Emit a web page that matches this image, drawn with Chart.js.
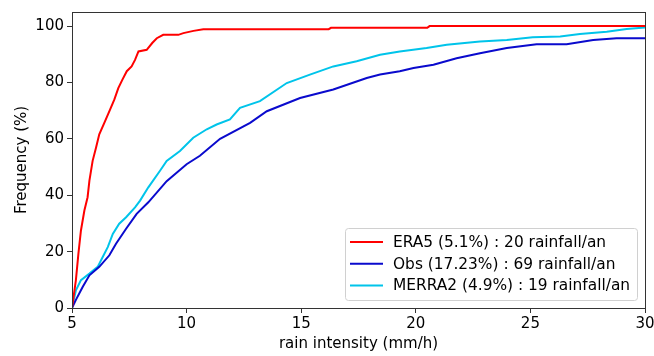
<!DOCTYPE html>
<html>
<head>
<meta charset="utf-8">
<script src="https://cdn.jsdelivr.net/npm/chart.js@4"></script>
<style>
  html, body { margin: 0; padding: 0; background: #fff; }
  #wrap { width: 654px; height: 356px; }
</style>
</head>
<body>
<div id="wrap"><canvas id="cdfChart" width="654" height="356"></canvas></div>
<script>
// values
var era5_x = [5, 5.17, 5.28, 5.39, 5.54, 5.68, 5.76, 5.9, 6.05, 6.19, 6.41, 6.66, 6.85, 7.02, 7.2, 7.39, 7.6, 7.75, 7.9, 8.26, 8.5, 8.7, 8.98, 9.64, 9.86, 10.3, 10.73, 16.2, 16.3, 20.5, 20.6, 30];
var era5_y = [0, 9.9, 19.3, 27.5, 34.6, 39.3, 45.2, 52.2, 56.9, 61.6, 65.7, 70.4, 74, 78, 81, 84, 85.7, 88, 91, 91.6, 94, 95.7, 96.9, 96.9, 97.5, 98.3, 98.9, 98.9, 99.4, 99.4, 100, 100];

var obs_x = [5, 5.17, 5.47, 5.76, 6.19, 6.63, 6.92, 7.36, 7.82, 8.33, 9.13, 10, 10.58, 11.46, 12.77, 13.5, 14.95, 16.4, 17.86, 18.44, 19.3, 19.9, 20.77, 21.78, 22.8, 23.97, 25.27, 26.58, 27.74, 28.76, 30];
var obs_y = [0, 2.9, 7.5, 11.6, 14.6, 18.7, 22.8, 28.1, 33.4, 37.5, 45, 51, 54, 60, 65.7, 69.8, 74.5, 77.5, 81.6, 82.8, 84, 85.1, 86.3, 88.6, 90.4, 92.2, 93.6, 93.6, 95.1, 95.7, 95.7];

var merra2_x = [5, 5.17, 5.39, 5.76, 6.12, 6.34, 6.56, 6.78, 7.06, 7.36, 7.75, 7.97, 8.33, 8.84, 9.13, 9.71, 10.29, 10.88, 11.31, 11.89, 12.33, 13.2, 14.37, 15.38, 16.4, 17.42, 18.44, 19.3, 20.47, 21.35, 22.8, 23.97, 25.1, 26.3, 27.16, 28.33, 29.2, 30];
var merra2_y = [0, 6.3, 9.9, 12.2, 14.6, 18.1, 21.6, 26.3, 29.9, 32.2, 35.7, 38.1, 42.8, 48.7, 52.2, 55.7, 60.4, 63.4, 65.1, 66.9, 71, 73.4, 79.8, 82.8, 85.7, 87.5, 89.8, 91, 92.2, 93.4, 94.5, 95.1, 96, 96.3, 97.2, 98, 99, 99.5];

var seriesNames = ['ERA5 (5.1%) : 20 rainfall/an', 'Obs (17.23%) : 69 rainfall/an', 'MERRA2 (4.9%) : 19 rainfall/an'];
var seriesColors = ['#ff0000', '#0a0acd', '#00c4ea'];
var xTicks = [5, 10, 15, 20, 25, 30];
var yTicks = [0, 20, 40, 60, 80, 100];

function toPoints(xs, ys) {
    var pts = [];
    for (var i = 0; i < xs.length; i++) {
        pts.push({ x: xs[i], y: ys[i] });
    }
    return pts;
}

var FONT = "'DejaVu Sans', sans-serif";

// frame round the plot + legend box inside the plot, like matplotlib
var framePlugin = {
    id: 'framePlugin',
    afterDraw: function (chart) {
        var ctx = chart.ctx;
        var a = chart.chartArea;
        ctx.save();
        ctx.strokeStyle = '#333';
        ctx.lineWidth = 1;
        ctx.strokeRect(Math.round(a.left) + 0.5, Math.round(a.top) + 0.5, Math.round(a.right - a.left), Math.round(a.bottom - a.top));

        // legend
        var bx = 345.5, by = 228.5, bw = 292, bh = 72;
        ctx.fillStyle = 'rgba(255,255,255,0.8)';
        ctx.strokeStyle = '#d0d0d0';
        ctx.beginPath();
        if (ctx.roundRect) { ctx.roundRect(bx, by, bw, bh, 3); } else { ctx.rect(bx, by, bw, bh); }
        ctx.fill();
        ctx.stroke();
        ctx.font = '15.4px ' + FONT;
        ctx.textBaseline = 'middle';
        var ds = chart.data.datasets;
        for (var i = 0; i < ds.length; i++) {
            var yy = 242 + i * 21.7;
            ctx.strokeStyle = ds[i].borderColor;
            ctx.lineWidth = 2;
            ctx.beginPath();
            ctx.moveTo(350, yy);
            ctx.lineTo(383, yy);
            ctx.stroke();
            ctx.fillStyle = '#000';
            ctx.fillText(ds[i].label, 393, yy + 1);
        }
        ctx.restore();
    }
};

var cfg = {
    type: 'scatter',
    data: {
        datasets: [
            { label: seriesNames[0], data: toPoints(era5_x, era5_y), borderColor: seriesColors[0] },
            { label: seriesNames[1], data: toPoints(obs_x, obs_y), borderColor: seriesColors[1] },
            { label: seriesNames[2], data: toPoints(merra2_x, merra2_y), borderColor: seriesColors[2] }
        ]
    },
    options: {
        responsive: false,
        animation: false,
        showLine: true,
        elements: {
            point: { radius: 0 },
            line: { borderWidth: 2, tension: 0, fill: false }
        },
        layout: { padding: { top: 10, right: 9, left: 13, bottom: 0 } },
        plugins: {
            legend: { display: false },
            tooltip: { enabled: false }
        },
        scales: {
            x: {
                type: 'linear',
                min: 5,
                max: 30,
                afterBuildTicks: function (s) { s.ticks = xTicks.map(function (v) { return { value: v }; }); },
                afterFit: function (s) { s.height = 48; s.paddingRight = 0; s.paddingLeft = 0; },
                grid: { drawOnChartArea: false, drawTicks: true, tickLength: 5, color: '#333' },
                border: { display: false },
                ticks: { color: '#000', font: { family: FONT, size: 15 }, padding: 2, maxRotation: 0 },
                title: { display: true, text: 'rain intensity (mm/h)', color: '#000', font: { family: FONT, size: 15 }, padding: { top: 0, bottom: 3 } }
            },
            y: {
                type: 'linear',
                min: 0,
                max: 105,
                afterBuildTicks: function (s) { s.ticks = yTicks.map(function (v) { return { value: v }; }); },
                afterFit: function (s) { s.width = 59; },
                grid: { drawOnChartArea: false, drawTicks: true, tickLength: 5, color: '#333' },
                border: { display: false },
                ticks: { color: '#000', font: { family: FONT, size: 15 }, padding: 3 },
                title: { display: true, text: 'Frequency (%)', color: '#000', font: { family: FONT, size: 15 }, padding: { top: 0, bottom: 6 } }
            }
        }
    },
    plugins: [framePlugin]
};

var ctx = document.getElementById('cdfChart').getContext('2d');
var cdfChart = new Chart(ctx, cfg);
</script>
</body>
</html>
